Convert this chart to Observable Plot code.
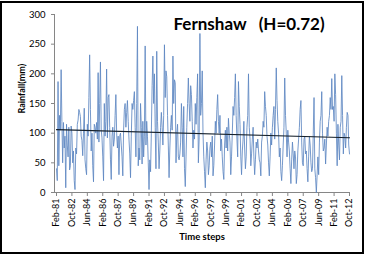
<!DOCTYPE html>
<html>
<head>
<meta charset="utf-8">
<script src="https://cdn.jsdelivr.net/npm/d3@7"></script>
<script src="https://cdn.jsdelivr.net/npm/@observablehq/plot@0.6"></script>
<style>
  html, body { margin: 0; padding: 0; background: #fff; }
  svg { display: block; }
</style>
</head>
<body>
<div id="chart"></div>
<script>
// Monthly rainfall at Fernshaw (mm), Feb-1981 .. Oct-2012, one value per month.
const rainfall = [
  // Feb-81 .. Sep-82
  40, 20, 187, 45, 130, 105, 207, 120, 50, 118, 75, 95, 8, 115, 80, 60, 110, 38, 45, 112,
  // Oct-82 .. May-84
  100, 50, 70, 20, 5, 75, 65, 115, 122, 140, 135, 128, 95, 88, 62, 100, 142, 55, 40, 30,
  // Jun-84 .. Jan-86
  115, 95, 160, 232, 140, 70, 100, 45, 18, 115, 110, 100, 118, 90, 202, 85, 150, 220, 105, 92,
  // Feb-86 .. Sep-87
  60, 20, 150, 95, 120, 208, 92, 160, 165, 110, 55, 22, 95, 110, 78, 90, 130, 165, 100, 75,
  // Oct-87 .. May-89
  95, 30, 95, 100, 80, 60, 28, 105, 140, 150, 110, 135, 155, 120, 90, 65, 25, 95, 150, 140,
  // Jun-89 .. Jan-91
  155, 170, 110, 60, 150, 280, 45, 75, 55, 150, 110, 48, 120, 60, 95, 247, 80, 120, 95, 50,
  // Feb-91 .. Sep-92
  5, 55, 35, 100, 180, 230, 150, 200, 110, 40, 238, 120, 85, 40, 70, 110, 135, 110, 80, 130,
  // Oct-92 .. May-94
  249, 160, 205, 195, 130, 80, 25, 75, 110, 130, 105, 230, 150, 190, 185, 50, 100, 115, 60, 55,
  // Jun-94 .. Jan-96
  65, 85, 150, 110, 60, 145, 40, 10, 60, 110, 150, 193, 150, 120, 180, 165, 120, 75, 105, 90,
  // Feb-96 .. Sep-97
  150, 115, 160, 200, 50, 90, 268, 130, 150, 205, 100, 60, 35, 8, 55, 85, 70, 30, 45, 75,
  // Oct-97 .. May-99
  85, 60, 95, 28, 45, 80, 120, 100, 140, 165, 120, 100, 130, 70, 90, 60, 35, 22, 80, 105,
  // Jun-99 .. Jan-01
  75, 110, 70, 125, 100, 85, 30, 60, 100, 145, 130, 160, 200, 130, 90, 60, 187, 145, 115, 60,
  // Feb-01 .. Sep-02
  30, 70, 90, 120, 75, 40, 60, 110, 130, 200, 110, 90, 45, 65, 90, 110, 60, 30, 55, 85,
  // Oct-02 .. May-04
  75, 90, 70, 55, 50, 28, 85, 95, 120, 110, 170, 145, 130, 95, 80, 50, 28, 60, 100, 80,
  // Jun-04 .. Jan-06
  110, 130, 145, 90, 140, 210, 155, 120, 100, 60, 75, 35, 20, 45, 80, 110, 193, 130, 100, 60,
  // Feb-06 .. Sep-07
  105, 85, 70, 40, 15, 55, 85, 65, 40, 70, 60, 15, 30, 70, 90, 110, 140, 155, 85, 50,
  // Oct-07 .. May-09
  45, 90, 95, 65, 70, 40, 18, 60, 95, 80, 50, 35, 40, 100, 160, 40, 25, 0, 30, 60,
  // Jun-09 .. Jan-11
  30, 85, 120, 130, 170, 100, 70, 75, 90, 48, 80, 110, 95, 120, 130, 160, 140, 192, 140, 145,
  // Feb-11 .. Sep-12
  120, 200, 165, 100, 45, 115, 80, 55, 110, 120, 197, 130, 65, 100, 95, 75, 110, 135, 130, 80,
  // Oct-12
  65
];

// Category labels shown on the time axis, one every 20 months.
const tickLabels = [
  "Feb-81", "Oct-82", "Jun-84", "Feb-86", "Oct-87", "Jun-89", "Feb-91",
  "Oct-92", "Jun-94", "Feb-96", "Oct-97", "Jun-99", "Feb-01", "Oct-02",
  "Jun-04", "Feb-06", "Oct-07", "Jun-09", "Feb-11", "Oct-12"
];
const labelStep = 20;
const yTicks = [0, 50, 100, 150, 200, 250, 300];

const chartTitle = "Fernshaw\u00a0\u00a0\u00a0(H=0.72)";
const yLabel = "Rainfall(mm)";
const xLabel = "Time steps";

const series = rainfall.map((v, i) => ({ step: i, rain: v }));
const tickPositions = tickLabels.map((_, k) => k * labelStep);

const axisGray = "#868686";
const font = "Lato, 'Open Sans', sans-serif";

const chart = Plot.plot({
  width: 371,
  height: 255,
  marginLeft: 54,
  marginRight: 22,
  marginTop: 14,
  marginBottom: 63,
  style: { fontFamily: font, fontSize: "9px", color: "#000", background: "#fff" },
  x: { domain: [0, rainfall.length - 1], insetLeft: 2 },
  y: { domain: [0, 300] },
  marks: [
    Plot.axisY({
      ticks: yTicks, tickSize: 3, tickPadding: 6, label: null,
      stroke: axisGray, fill: "#000", fontSize: 9.5
    }),
    Plot.axisX({
      ticks: tickPositions,
      tickFormat: d => tickLabels[Math.round(d / labelStep)],
      tickRotate: -90, tickSize: 4, tickPadding: 2, label: null,
      stroke: axisGray, fill: "#000", fontSize: 9
    }),
    Plot.frame({ anchor: "left", stroke: axisGray }),
    Plot.frame({ anchor: "bottom", stroke: axisGray }),
    Plot.lineY(series, {
      x: "step", y: "rain",
      stroke: "#5d87c2", strokeWidth: 0.85, strokeLinejoin: "round"
    }),
    Plot.linearRegressionY(series, {
      x: "step", y: "rain", ci: 0,
      stroke: "#15202b", strokeWidth: 1.2
    }),
    Plot.text([chartTitle], {
      frameAnchor: "top-left", dx: 119, dy: 10,
      textAnchor: "start", lineAnchor: "middle",
      fontWeight: "bold", fontSize: 17, fill: "#000"
    }),
    Plot.text([yLabel], {
      frameAnchor: "left", dx: -32, dy: 10, rotate: -90,
      lineAnchor: "middle", fontWeight: "bold", fontSize: 9, fill: "#000"
    }),
    Plot.text([xLabel], {
      frameAnchor: "bottom", dy: 44,
      lineAnchor: "middle", fontWeight: "bold", fontSize: 9.5, fill: "#000"
    })
  ]
});

// Chart-area border around the whole figure
d3.select(chart).append("rect")
  .attr("x", 1).attr("y", 2)
  .attr("width", 362).attr("height", 251)
  .attr("fill", "none")
  .attr("stroke", "#000")
  .attr("stroke-width", 2);

document.getElementById("chart").appendChild(chart);
</script>
</body>
</html>
